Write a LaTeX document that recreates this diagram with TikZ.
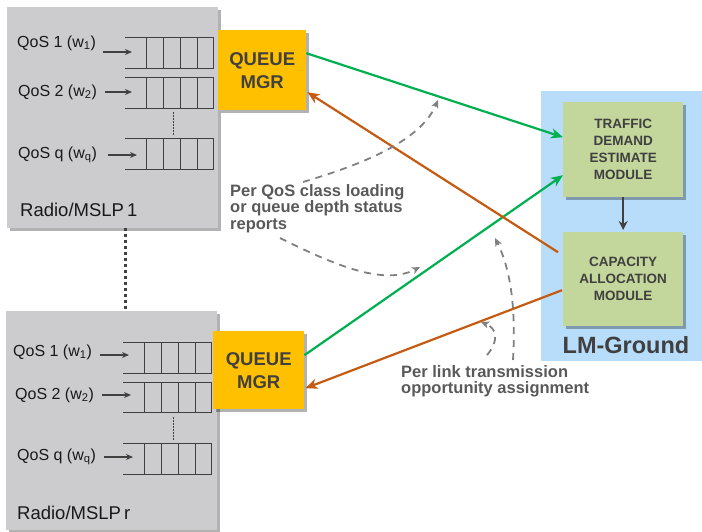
\documentclass[tikz,border=0pt]{standalone}
\usepackage{fontspec}
\setmainfont{Liberation Sans}
\usetikzlibrary{arrows.meta,shadows,calc}
\definecolor{boxgray}{RGB}{204,204,206}
\definecolor{qorange}{RGB}{255,192,0}
\definecolor{txtdark}{RGB}{64,64,64}
\definecolor{annot}{RGB}{89,89,89}
\definecolor{lgreen}{RGB}{0,176,80}
\definecolor{lorange}{RGB}{197,90,17}
\definecolor{dashgray}{RGB}{128,128,128}
\definecolor{lmblue}{RGB}{183,221,250}
\definecolor{modgreen}{RGB}{195,214,155}
\newcommand\qrow[3]{%
  \draw[qline] (#1,#2) -- (#1+88,#2) -- (#1+88,#3) -- (#1,#3);
  \foreach \d in {21,38,55,72} \draw[qline] (#1+\d,#2) -- (#1+\d,#3);
}
\begin{document}
\begin{tikzpicture}[x=1pt,y=-1pt,
  shad/.style={drop shadow={shadow xshift=2.5pt,shadow yshift=-2.5pt,opacity=0.3,fill=black}},
  radiobox/.style={fill=boxgray,anchor=north west,inner sep=0,minimum width=211pt,minimum height=221pt,shad},
  qmgr/.style={fill=qorange,anchor=north west,inner sep=0,minimum width=88pt,minimum height=80pt,shad,
    align=center,text=txtdark,font=\bfseries\fontsize{18.5}{23}\selectfont},
  module/.style={fill=modgreen,anchor=north west,inner sep=0,minimum width=120pt,minimum height=95pt,shad,
    align=center,text=txtdark,font=\bfseries\fontsize{13.5}{17}\selectfont},
  qline/.style={draw=txtdark,line width=0.9pt},
  qlabel/.style={anchor=west,inner sep=0,text=black!90,font=\fontsize{16}{18}\selectfont},
  qarrow/.style={draw=txtdark,line width=2pt,-{Stealth[length=7pt,width=6pt]}},
  greenline/.style={draw=lgreen,line width=2.2pt,-{Stealth[length=12pt,width=10pt,inset=3.5pt]}},
  orangeline/.style={draw=lorange,line width=2.2pt,-{Stealth[length=12pt,width=10pt,inset=3.5pt]}},
  dasharrow/.style={draw=dashgray,line width=1.8pt,dash pattern=on 7pt off 6pt,-{Stealth[length=8pt,width=7pt,inset=2pt]}},
  annottext/.style={anchor=north west,inner sep=0,align=left,text=annot,font=\bfseries\fontsize{16.5}{16.8}\selectfont}
]
\useasboundingbox (0,0) rectangle (702,531);

% LM-Ground background
\node[fill=lmblue,anchor=north west,inner sep=0,minimum width=161pt,minimum height=270pt] (lm) at (541,91) {};
\node[text=txtdark,font=\bfseries\fontsize{23.5}{26}\selectfont] (lmlabel) at (626,345) {LM-Ground};

% Radio boxes
\node[radiobox] (r1) at (7,7) {};
\node[radiobox,minimum height=219pt] (r2) at (6,311) {};
\node[anchor=west,inner sep=0,text=black!90,font=\fontsize{18.5}{21}\selectfont] (r1lab) at (20,210) {Radio/MSLP\,1};
\node[anchor=west,inner sep=0,text=black!90,font=\fontsize{18.5}{21}\selectfont] (r2lab) at (17,513) {Radio/MSLP\,r};
\draw[draw=txtdark,line width=3pt,dash pattern=on 2.5pt off 3.5pt] (r1.south -| 125,0) -- (r2.north -| 125,0);

% Queues, box 1
\qrow{125}{37}{68}
\qrow{125}{77}{108}
\qrow{125}{138}{169}
\draw[txtdark,line width=1pt,dash pattern=on 1.5pt off 1.5pt] (173,112) -- (173,135);
\node[qlabel] (a1) at (17,43) {QoS 1 (w\textsubscript{1})};
\node[qlabel] (a2) at (18,92) {QoS 2 (w\textsubscript{2})};
\node[qlabel] (a3) at (18,155) {QoS q (w\textsubscript{q})};
\coordinate (a1s) at (103,52); \coordinate (a1e) at (132,52);
\coordinate (a2s) at (105,92); \coordinate (a2e) at (132,92);
\coordinate (a3s) at (108,155); \coordinate (a3e) at (137,155);
\draw[qarrow] (a1s) -- (a1e);
\draw[qarrow] (a2s) -- (a2e);
\draw[qarrow] (a3s) -- (a3e);

% Queues, box 2
\qrow{123}{342}{373}
\qrow{123}{382}{412}
\qrow{123}{443}{474}
\draw[txtdark,line width=1pt,dash pattern=on 1.5pt off 1.5pt] (173,417) -- (173,440);
\node[qlabel] (b1) at (13,352) {QoS 1 (w\textsubscript{1})};
\node[qlabel] (b2) at (15,395) {QoS 2 (w\textsubscript{2})};
\node[qlabel] (b3) at (17,457) {QoS q (w\textsubscript{q})};
\coordinate (b1s) at (100,355); \coordinate (b1e) at (129,355);
\coordinate (b2s) at (102,395); \coordinate (b2e) at (131,395);
\coordinate (b3s) at (104,457); \coordinate (b3e) at (133,457);
\draw[qarrow] (b1s) -- (b1e);
\draw[qarrow] (b2s) -- (b2e);
\draw[qarrow] (b3s) -- (b3e);

% Queue managers
\node[qmgr] (qm1) at (218,30) {QUEUE\\MGR};
\node[qmgr,minimum width=91pt,minimum height=78pt] (qm2) at (213,331) {QUEUE\\MGR};

% Modules
\node[module] (tdem) at (563,102) {TRAFFIC\\DEMAND\\ESTIMATE\\MODULE};
\node[module,minimum height=94pt] (cam) at (563,232) {CAPACITY\\ALLOCATION\\MODULE};
\draw[draw=txtdark,line width=2.5pt,-{Stealth[length=9pt,width=9pt]}] (tdem.south) -- ([yshift=2pt]cam.north);

% Connectors
\draw[greenline] ([yshift=17pt]qm1.east) -- ([yshift=12.5pt]tdem.west);
\draw[greenline] ([yshift=15pt]qm2.east) -- ([yshift=-25.5pt]tdem.west);
\draw[orangeline] ([xshift=-5pt,yshift=27pt]cam.west) -- ([xshift=1pt,yshift=-22pt]qm1.east);
\draw[orangeline] ([xshift=-1pt,yshift=-11pt]cam.west) -- ([xshift=1pt,yshift=-18pt]qm2.east);

% Annotations
\node[annottext] (t1) at (230,184) {Per QoS class loading\\or queue depth status\\reports};
\node[annottext] (t2) at (401,365) {Per link transmission\\opportunity assignment};
\coordinate (d1s) at (303,182); \coordinate (d1e) at (438,100);
\coordinate (d2s) at (280,238); \coordinate (d2e) at (420,267);
\coordinate (d3s) at (513,360); \coordinate (d3e) at (495,238);
\coordinate (d4s) at (487,355); \coordinate (d4e) at (481,322);
\draw[dasharrow] (d1s) .. controls (360,165) and (420,142) .. (d1e);
\draw[dasharrow] (d2s) .. controls (340,268) and (385,285) .. (d2e);
\draw[dasharrow] (d3s) .. controls (516,310) and (511,270) .. (d3e);
\draw[dasharrow] (d4s) .. controls (500,340) and (496,328) .. (d4e);
\end{tikzpicture}
\end{document}
